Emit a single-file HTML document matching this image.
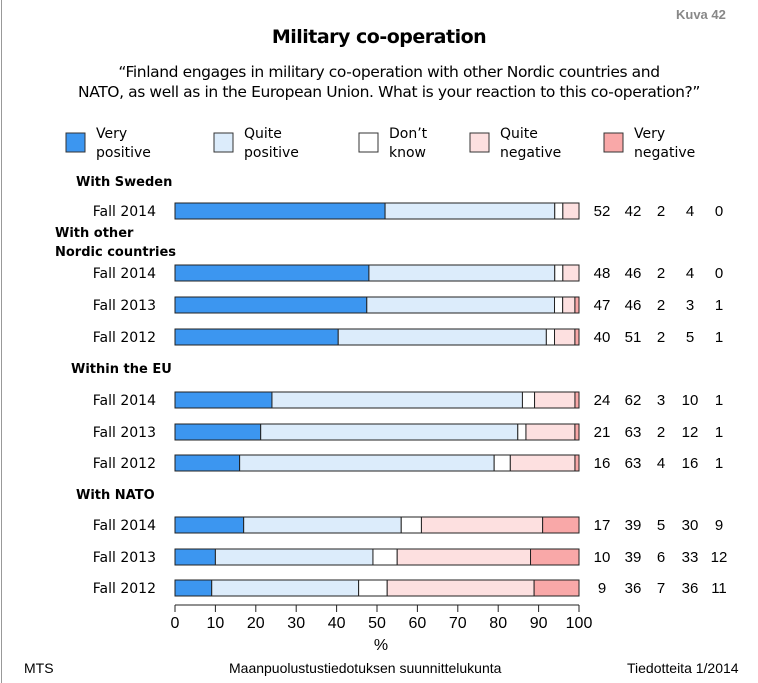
<!DOCTYPE html>
<html><head><meta charset="utf-8"><style>
body{margin:0;background:#fff;width:758px;height:683px;overflow:hidden;position:relative;font-family:"Liberation Sans",sans-serif}
.t{position:absolute;white-space:nowrap}
</style></head><body>
<div style="position:absolute;left:1px;top:0;width:1px;height:683px;background:#999"></div>
<div class="t" style="left:676px;top:7px;font-size:13px;font-weight:bold;color:#888">Kuva 42</div>
<div class="t" style="left:0;width:758px;text-align:center;top:26px;font-size:19px;font-weight:bold;font-family:'DejaVu Sans',sans-serif;letter-spacing:-0.5px">Military co-operation</div>
<div class="t" style="left:0;width:778px;text-align:center;top:62px;font-size:15.5px;line-height:20px;font-family:'DejaVu Sans',sans-serif;letter-spacing:-0.4px">“Finland engages in military co-operation with other Nordic countries and<br>NATO, as well as in the European Union. What is your reaction to this co-operation?”</div>
<svg id="c" width="758" height="683" style="position:absolute;left:0;top:0"></svg>
<div class="t" style="left:24px;top:660px;font-size:14px">MTS</div>
<div class="t" style="left:229px;top:660px;font-size:14px">Maanpuolustustiedotuksen suunnittelukunta</div>
<div class="t" style="left:627px;top:660px;font-size:14px">Tiedotteita 1/2014</div>
<script>
const categories=["Very positive","Quite positive","Don’t know","Quite negative","Very negative"];
const colors=["#3c96f0","#dcecfb","#ffffff","#fde0e0","#f9a8a8"];
const groups=["With Sweden","With other\nNordic countries","Within the EU","With NATO"];
const rowLabels=["Fall 2014","Fall 2014","Fall 2013","Fall 2012","Fall 2014","Fall 2013","Fall 2012","Fall 2014","Fall 2013","Fall 2012"];
const rowGroup=[0,1,1,1,2,2,2,3,3,3];
const veryPos=[52,48,47,40,24,21,16,17,10,9];
const quitePos=[42,46,46,51,62,63,63,39,39,36];
const dontKnow=[2,2,2,2,3,2,4,5,6,7];
const quiteNeg=[4,4,3,5,10,12,16,30,33,36];
const veryNeg=[0,0,1,1,1,1,1,9,12,11];
const ticks=[0,10,20,30,40,50,60,70,80,90,100];
const rowY=[211,273,305,337,400,432,463,525,557,588];
const groupY=[186,237,373,499];
const svg=document.getElementById('c');const NS="http://www.w3.org/2000/svg";
const x=v=>175+v*4.04;
function mk(tag,a,txt){const e=document.createElementNS(NS,tag);for(const k in a)e.setAttribute(k,a[k]);if(txt!==undefined)e.textContent=txt;svg.appendChild(e);return e;}
const lx=[66,214,359,470,604];
categories.forEach((c,i)=>{
 const r=mk('rect',{x:lx[i],y:133,width:19,height:19,fill:colors[i],stroke:'#333','stroke-width':1});
 
 const parts=c.split(' ');
 const t=mk('text',{x:lx[i]+30,y:138,'font-size':14,'font-family':'DejaVu Sans, sans-serif'});
 
 parts.forEach((p,j)=>{const s=document.createElementNS(NS,'tspan');s.setAttribute('x',lx[i]+30);s.setAttribute('dy',j?19:0);s.textContent=p;t.appendChild(s);});
});
groups.forEach((g,i)=>{
 const lines=g.split('\n');
 const t=mk('text',{x:55,y:groupY[i],'font-size':13,'font-weight':'bold','font-family':'DejaVu Sans, sans-serif'});
 
 lines.forEach((p,j)=>{const s=document.createElementNS(NS,'tspan');s.setAttribute('x',55);s.setAttribute('dy',j?19:0);s.textContent=p;t.appendChild(s);});
 if(lines.length==1)t.querySelector('tspan').setAttribute('x',i==2?71:76);
});
const series=[veryPos,quitePos,dontKnow,quiteNeg,veryNeg];
rowLabels.forEach((lab,r)=>{
 const cy=rowY[r];
 const t=mk('text',{x:156,y:cy+5,'text-anchor':'end','font-size':14,'font-family':'DejaVu Sans, sans-serif'},lab);
 
 const tot=series.reduce((s,a)=>s+a[r],0);let cum=0;
 series.forEach((a,k)=>{
  const v=a[r]/tot*100;
  const b=mk('rect',{x:x(cum),y:cy-8,width:Math.max(0,x(cum+v)-x(cum)),height:16,fill:colors[k],stroke:'#222','stroke-width':1});
  
  cum+=v;
 });
 const vx=[602,633,661,690,719];
 series.forEach((a,k)=>{
  const v=mk('text',{x:vx[k],y:cy+5,'text-anchor':'middle','font-size':15,'font-family':'Liberation Sans, sans-serif'},a[r]);
  
 });
});
const ax=mk('line',{x1:x(0),x2:x(100),y1:605,y2:605,stroke:'#222'});

ticks.forEach(v=>{
 const l=mk('line',{x1:x(v),x2:x(v),y1:605,y2:612,stroke:'#222'});
 
 const t=mk('text',{x:x(v),y:628,'text-anchor':'middle','font-size':16},v);
 
});
const xt=mk('text',{x:381,y:650,'text-anchor':'middle','font-size':16},'%');

</script>
</body></html>
